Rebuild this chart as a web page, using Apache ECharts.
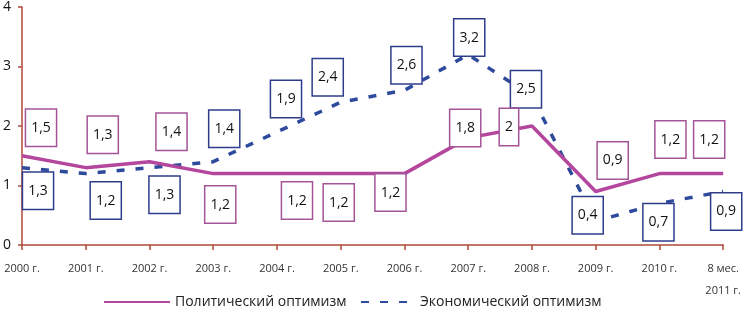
<!DOCTYPE html>
<html>
<head>
<meta charset="utf-8">
<script src="https://cdn.jsdelivr.net/npm/echarts@6/dist/echarts.min.js"></script>
<style>
  html, body { margin: 0; padding: 0; background: #ffffff; }
  #chart { width: 744px; height: 313px; }
</style>
</head>
<body>
<div id="chart"></div>
<script>
// категории по оси X
const years = ["2000 г.", "2001 г.", "2002 г.", "2003 г.", "2004 г.", "2005 г.",
  "2006 г.", "2007 г.", "2008 г.", "2009 г.", "2010 г.", "8 мес.\n2011 г."];
// значения рядов
const politValues = [1.5, 1.3, 1.4, 1.2, 1.2, 1.2, 1.2, 1.8, 2, 0.9, 1.2, 1.2];
const econValues = [1.3, 1.2, 1.3, 1.4, 1.9, 2.4, 2.6, 3.2, 2.5, 0.4, 0.7, 0.9];
const yTicks = [0, 1, 2, 3, 4];

// смещения подписей относительно точек
const politOffsets = [[19, -28], [17, -33], [22, -30], [7, 31], [20, 27], [-2, 29],
  [-14, 19], [-3, -10], [-23, 1], [17, -31], [11, -34], [-14, -34]];
const econOffsets = [[16, 23], [20, 27], [15, 27], [11, -33], [9, -33], [-13, -25],
  [2, -25], [1, -17], [-6, -7], [-8, -6], [-1, 19], [3, 20]];

const POLIT = "#B4479D";
const ECON = "#2E4A9C";
const AXIS = "#B0483A";
const FONT = "'Open Sans', 'Noto Sans', sans-serif";

function fmt(v) {
  return String(v).replace(".", ",");
}

function buildData(values, offsets, border) {
  return values.map((v, i) => ({
    value: v,
    label: {
      offset: offsets[i],
      borderColor: border,
    },
  }));
}

const chart = echarts.init(document.getElementById("chart"));
chart.setOption({
  animation: false,
  backgroundColor: "#ffffff",
  grid: {
    left: 20,
    right: 20,
    top: 5,
    bottom: 68,
  },
  legend: [
    {
      data: ["Политический оптимизм"],
      left: 98,
      top: 290,
      itemWidth: 66,
      itemHeight: 12,
      itemGap: 4,
      itemStyle: { opacity: 0 },
      textStyle: { color: "#222", fontSize: 14, fontFamily: FONT },
    },
    {
      data: ["Экономический оптимизм"],
      left: 355,
      top: 290,
      itemWidth: 54,
      itemHeight: 12,
      itemGap: 9,
      itemStyle: { opacity: 0 },
      textStyle: { color: "#222", fontSize: 14, fontFamily: FONT },
    },
  ],
  xAxis: {
    type: "category",
    boundaryGap: false,
    data: years,
    axisLine: { show: true, lineStyle: { color: AXIS, width: 1.5 } },
    axisTick: { show: true, length: 5, lineStyle: { color: AXIS, width: 1.5 } },
    axisLabel: {
      color: "#333",
      fontSize: 11,
      fontFamily: FONT,
      margin: 13,
      lineHeight: 22,
      interval: 0,
    },
    splitLine: { show: false },
  },
  yAxis: {
    type: "value",
    min: yTicks[0],
    max: yTicks[yTicks.length - 1],
    interval: 1,
    axisLine: { show: true, lineStyle: { color: AXIS, width: 1.5 } },
    axisTick: { show: true, length: 4, lineStyle: { color: AXIS, width: 1.5 } },
    axisLabel: { color: "#111", fontSize: 14, fontFamily: FONT, margin: 11 },
    splitLine: { show: false },
  },
  series: [
    {
      name: "Политический оптимизм",
      type: "line",
      data: buildData(politValues, politOffsets, "#A55497"),
      symbol: "circle",
      symbolSize: 0.1,
      showSymbol: true,
      itemStyle: { color: POLIT },
      lineStyle: { color: POLIT, width: 3.5 },
      z: 3,
      label: {
        show: true,
        position: "inside",
        formatter: (p) => fmt(p.value),
        color: "#111",
        fontSize: 14,
        fontFamily: FONT,
        lineHeight: 18,
        backgroundColor: "#ffffff",
        borderWidth: 1.5,
        padding: [9, 5, 9, 5],
      },
    },
    {
      name: "Экономический оптимизм",
      type: "line",
      data: buildData(econValues, econOffsets, "#2E3C8C"),
      symbol: "circle",
      symbolSize: 0.1,
      showSymbol: true,
      itemStyle: { color: ECON },
      lineStyle: { color: ECON, width: 3.5, type: [8, 11] },
      z: 2,
      label: {
        show: true,
        position: "inside",
        formatter: (p) => fmt(p.value),
        color: "#111",
        fontSize: 14,
        fontFamily: FONT,
        lineHeight: 18,
        backgroundColor: "#ffffff",
        borderWidth: 1.5,
        padding: [9, 5, 9, 5],
      },
    },
  ],
});
</script>
</body>
</html>
